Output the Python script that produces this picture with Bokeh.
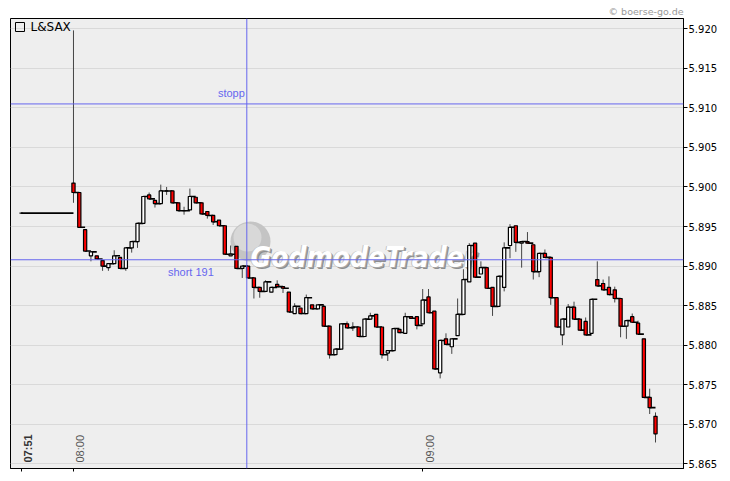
import pandas as pd
from math import pi
from bokeh.plotting import figure
from bokeh.models import (Range1d, Span, Label, BoxAnnotation, FixedTicker, PrintfTickFormatter,
                          ColumnDataSource, CustomJSTickFormatter)
from bokeh.embed import file_html
from bokeh.resources import INLINE

# ---------------- data ----------------
session_day = "2010-06-01"
title_text = "L&SAX"
copyright_text = "\u00a9 boerse-go.de"
logo_text = "GodmodeTrader"

# minutes after 08:00 (07:51 pre-market print, then 1-minute bars)
minutes = [-9] + list(range(0, 101))

opens = [5.8967,
         5.9005, 5.8993, 5.8946, 5.8913, 5.8913, 5.8907, 5.8898, 5.8903, 5.8911, 5.8897,
         5.8923, 5.8931, 5.8954, 5.8990, 5.8983, 5.8979, 5.8995, 5.8995, 5.8980, 5.8970,
         5.8971, 5.8987, 5.8980, 5.8969, 5.8964, 5.8958, 5.8951, 5.8913, 5.8925, 5.8897,
         5.8900, 5.8885, 5.8873, 5.8868, 5.8867, 5.8877, 5.8874, 5.8867, 5.8840, 5.8847,
         5.8840, 5.8851, 5.8846, 5.8849, 5.8824, 5.8788, 5.8795, 5.8827, 5.8822, 5.8823,
         5.8811, 5.8833, 5.8839, 5.8823, 5.8790, 5.8793, 5.8820, 5.8815, 5.8836, 5.8836,
         5.8827, 5.8861, 5.8843, 5.8765, 5.8808, 5.8798, 5.8812, 5.8839, 5.8880, 5.8929,
         5.8890, 5.8898, 5.8873, 5.8849, 5.8873, 5.8926, 5.8951, 5.8929, 5.8931, 5.8927,
         5.8893, 5.8916, 5.8911, 5.8860, 5.8813, 5.8823, 5.8848, 5.8833, 5.8830, 5.8815,
         5.8883, 5.8878, 5.8873, 5.8870, 5.8859, 5.8824, 5.8836, 5.8828, 5.8808, 5.8734,
         5.8710]
closes = [5.8967,
          5.8993, 5.8949, 5.8919, 5.8918, 5.8909, 5.8900, 5.8903, 5.8913, 5.8897, 5.8923,
          5.8931, 5.8954, 5.8988, 5.8985, 5.8979, 5.8995, 5.8995, 5.8980, 5.8970, 5.8970,
          5.8988, 5.8980, 5.8966, 5.8964, 5.8956, 5.8951, 5.8915, 5.8915, 5.8897, 5.8900,
          5.8885, 5.8873, 5.8868, 5.8880, 5.8873, 5.8874, 5.8872, 5.8842, 5.8849, 5.8840,
          5.8860, 5.8846, 5.8851, 5.8824, 5.8788, 5.8795, 5.8827, 5.8822, 5.8823, 5.8811,
          5.8833, 5.8837, 5.8823, 5.8788, 5.8793, 5.8821, 5.8816, 5.8836, 5.8834, 5.8825,
          5.8857, 5.8841, 5.8770, 5.8806, 5.8801, 5.8808, 5.8839, 5.8883, 5.8926, 5.8886,
          5.8898, 5.8872, 5.8849, 5.8887, 5.8923, 5.8949, 5.8930, 5.8931, 5.8929, 5.8893,
          5.8916, 5.8911, 5.8860, 5.8823, 5.8833, 5.8848, 5.8833, 5.8819, 5.8813, 5.8858,
          5.8875, 5.8870, 5.8864, 5.8859, 5.8824, 5.8831, 5.8829, 5.8814, 5.8734, 5.8721,
          5.8688]
highs = [5.8967,
         5.9198, 5.8993, 5.8946, 5.8918, 5.8913, 5.8907, 5.8903, 5.8920, 5.8911, 5.8923,
         5.8931, 5.8954, 5.8988, 5.8993, 5.8983, 5.9003, 5.9000, 5.8995, 5.8980, 5.8975,
         5.8998, 5.8987, 5.8980, 5.8969, 5.8964, 5.8958, 5.8951, 5.8926, 5.8925, 5.8900,
         5.8900, 5.8885, 5.8873, 5.8882, 5.8873, 5.8882, 5.8874, 5.8867, 5.8853, 5.8847,
         5.8864, 5.8851, 5.8851, 5.8851, 5.8824, 5.8795, 5.8827, 5.8830, 5.8829, 5.8823,
         5.8833, 5.8841, 5.8839, 5.8823, 5.8793, 5.8821, 5.8820, 5.8841, 5.8836, 5.8836,
         5.8871, 5.8871, 5.8843, 5.8806, 5.8815, 5.8808, 5.8859, 5.8896, 5.8929, 5.8929,
         5.8906, 5.8898, 5.8873, 5.8887, 5.8930, 5.8953, 5.8951, 5.8931, 5.8943, 5.8927,
         5.8916, 5.8921, 5.8911, 5.8860, 5.8833, 5.8852, 5.8855, 5.8833, 5.8835, 5.8858,
         5.8906, 5.8883, 5.8887, 5.8874, 5.8859, 5.8831, 5.8840, 5.8831, 5.8808, 5.8745,
         5.8715]
lows = [5.8967,
        5.8980, 5.8949, 5.8919, 5.8906, 5.8909, 5.8894, 5.8894, 5.8903, 5.8897, 5.8894,
        5.8917, 5.8923, 5.8954, 5.8985, 5.8974, 5.8979, 5.8990, 5.8980, 5.8970, 5.8965,
        5.8971, 5.8980, 5.8966, 5.8960, 5.8952, 5.8951, 5.8915, 5.8913, 5.8897, 5.8885,
        5.8885, 5.8859, 5.8860, 5.8868, 5.8867, 5.8874, 5.8866, 5.8842, 5.8840, 5.8840,
        5.8840, 5.8846, 5.8846, 5.8824, 5.8783, 5.8788, 5.8795, 5.8822, 5.8818, 5.8811,
        5.8811, 5.8833, 5.8823, 5.8783, 5.8780, 5.8793, 5.8816, 5.8815, 5.8834, 5.8820,
        5.8827, 5.8841, 5.8770, 5.8758, 5.8801, 5.8789, 5.8812, 5.8839, 5.8880, 5.8886,
        5.8890, 5.8872, 5.8837, 5.8849, 5.8868, 5.8910, 5.8918, 5.8898, 5.8929, 5.8883,
        5.8886, 5.8911, 5.8851, 5.8823, 5.8800, 5.8823, 5.8833, 5.8819, 5.8813, 5.8815,
        5.8875, 5.8870, 5.8864, 5.8854, 5.8810, 5.8808, 5.8829, 5.8814, 5.8734, 5.8713,
        5.8677]

stop_level = 5.9105
stop_text = "stopp"
short_level = 5.8908
short_text = "short 191"
signal_minute = 29.78

y_ticks = [5.865, 5.870, 5.875, 5.880, 5.885, 5.890, 5.895, 5.900, 5.905, 5.910, 5.915, 5.920]
x_tick_labels = ["07:51", "08:00", "09:00"]

# ---------------- build ----------------
t0 = pd.Timestamp(f"{session_day} 08:00")
times = [t0 + pd.Timedelta(minutes=m) for m in minutes]


def ms(ts):
    return ts.value / 1e6


x_start = t0 - pd.Timedelta(minutes=10.82)
x_end = t0 + pd.Timedelta(minutes=104.81)
y_start, y_end = 5.86441, 5.92130

p = figure(frame_width=673, frame_height=450, x_axis_type="datetime",
           x_range=Range1d(ms(x_start), ms(x_end)), y_range=Range1d(y_start, y_end),
           y_axis_location="right", output_backend="svg", toolbar_location=None,
           min_border_left=10, min_border_top=18, min_border_right=6, min_border_bottom=4)
p.background_fill_color = "#eeeeee"
p.border_fill_color = "white"
p.outline_line_color = "black"
p.outline_line_width = 1
p.xgrid.grid_line_color = None
p.ygrid.grid_line_color = "#d9d9d9"
p.ygrid.ticker = FixedTicker(ticks=y_ticks)

# copyright as right-aligned title
p.title.text = copyright_text
p.title.align = "right"
p.title.text_font = "DejaVu Sans"
p.title.text_font_size = "9.5px"
p.title.text_font_style = "normal"
p.title.text_color = "#999999"
p.title.standoff = 3
p.title.offset = 0

# y axis (right)
p.yaxis.ticker = FixedTicker(ticks=y_ticks, minor_ticks=[])
p.yaxis.formatter = PrintfTickFormatter(format="%.3f")
p.yaxis.major_tick_out = 4
p.yaxis.major_tick_in = 0
p.yaxis.major_label_standoff = 1
p.yaxis.major_label_text_font = "DejaVu Sans"
p.yaxis.major_label_text_font_size = "10px"
p.yaxis.major_label_text_color = "black"
p.yaxis.axis_line_color = "black"
p.yaxis.major_tick_line_color = "black"

# x axis (ticks only, labels drawn inside the frame)
tick_ms = [ms(pd.Timestamp(f"{session_day} {lbl}")) for lbl in x_tick_labels]
p.xaxis.ticker = FixedTicker(ticks=tick_ms, minor_ticks=[])
p.xaxis.formatter = CustomJSTickFormatter(code="return ''")
p.xaxis.major_tick_out = 3
p.xaxis.major_tick_in = 0
p.xaxis.major_label_standoff = 0
p.xaxis.axis_line_color = "black"
p.xaxis.major_tick_line_color = "black"

# watermark logo
p.add_layout(BoxAnnotation(left=220, right=260, top=247, bottom=207,
                           left_units="screen", right_units="screen", top_units="screen", bottom_units="screen",
                           fill_color="#c4c4c4", fill_alpha=1, line_color=None, border_radius=20, level="underlay"))
p.add_layout(BoxAnnotation(left=223, right=251, top=245, bottom=217,
                           left_units="screen", right_units="screen", top_units="screen", bottom_units="screen",
                           fill_color="#d8d8d8", fill_alpha=1, line_color=None, border_radius=14, level="underlay"))
for dx, dy, col in [(2, -2, "#8e8e8e"), (1, -1, "#a8a8a8"), (-1, 0, "#c4c4c4"), (0, 0, "white")]:
    p.add_layout(Label(x=240 + dx, y=211 + dy, x_units="screen", y_units="screen", text=logo_text,
                       text_font="DejaVu Sans Condensed", text_font_size="28px", text_font_style="bold italic",
                       text_color=col, text_baseline="alphabetic", level="underlay"))

# candles
src = ColumnDataSource(dict(
    x=[ms(t) for t in times], o=opens, c=closes, h=highs, l=lows,
    top=[max(a, b) for a, b in zip(opens, closes)],
    bot=[min(a, b) for a, b in zip(opens, closes)],
    col=["#ff0000" if c < o else "white" for o, c in zip(opens, closes)],
))
conn = ColumnDataSource(dict(
    x0=[ms(t) for t in times[:-1]], x1=[ms(t) for t in times[1:]], y=closes[:-1],
))
p.segment(x0="x", y0="h", x1="x", y1="l", source=src, line_color="#444444", line_width=1)
p.segment(x0="x0", y0="y", x1="x1", y1="y", source=conn, line_color="black", line_width=1.6)
p.vbar(x="x", width=33000, top="top", bottom="bot", source=src, fill_color="col",
       line_color="black", line_width=1.2)

# signal lines
sig_ms = ms(t0 + pd.Timedelta(minutes=signal_minute))
line_col = "#6666ee"
p.add_layout(Span(location=stop_level, dimension="width", line_color=line_col, line_width=1))
p.add_layout(Span(location=short_level, dimension="width", line_color=line_col, line_width=1))
p.add_layout(Span(location=sig_ms, dimension="height", line_color=line_col, line_width=1))
p.add_layout(Label(x=sig_ms, y=stop_level, text=stop_text, x_offset=-2, y_offset=5,
                   text_align="right", text_baseline="bottom", text_color=line_col,
                   text_font="Liberation Sans", text_font_size="11px"))
p.add_layout(Label(x=sig_ms, y=short_level, text=short_text, x_offset=-33, y_offset=-6,
                   text_align="right", text_baseline="top", text_color=line_col,
                   text_font="Liberation Sans", text_font_size="11px"))

# time labels inside the frame
for lbl, t in zip(x_tick_labels, tick_ms):
    first = lbl == x_tick_labels[0]
    p.add_layout(Label(x=t, y=6, y_units="screen", text=lbl, angle=pi / 2, x_offset=1,
                       text_align="left", text_baseline="top",
                       text_color="#333333" if first else "#555555",
                       text_font_style="bold" if first else "normal",
                       text_font="Liberation Sans", text_font_size="11px"))

# legend box and name
p.add_layout(BoxAnnotation(left=5, right=14, top=446, bottom=437,
                           left_units="screen", right_units="screen", top_units="screen", bottom_units="screen",
                           fill_alpha=0, line_color="black", line_width=1, line_alpha=1))
p.add_layout(Label(x=20, y=441.5, x_units="screen", y_units="screen", text=title_text,
                   text_baseline="middle", text_color="black", text_font="DejaVu Sans", text_font_size="12px"))

open("out.html", "w").write(file_html(p, INLINE))
